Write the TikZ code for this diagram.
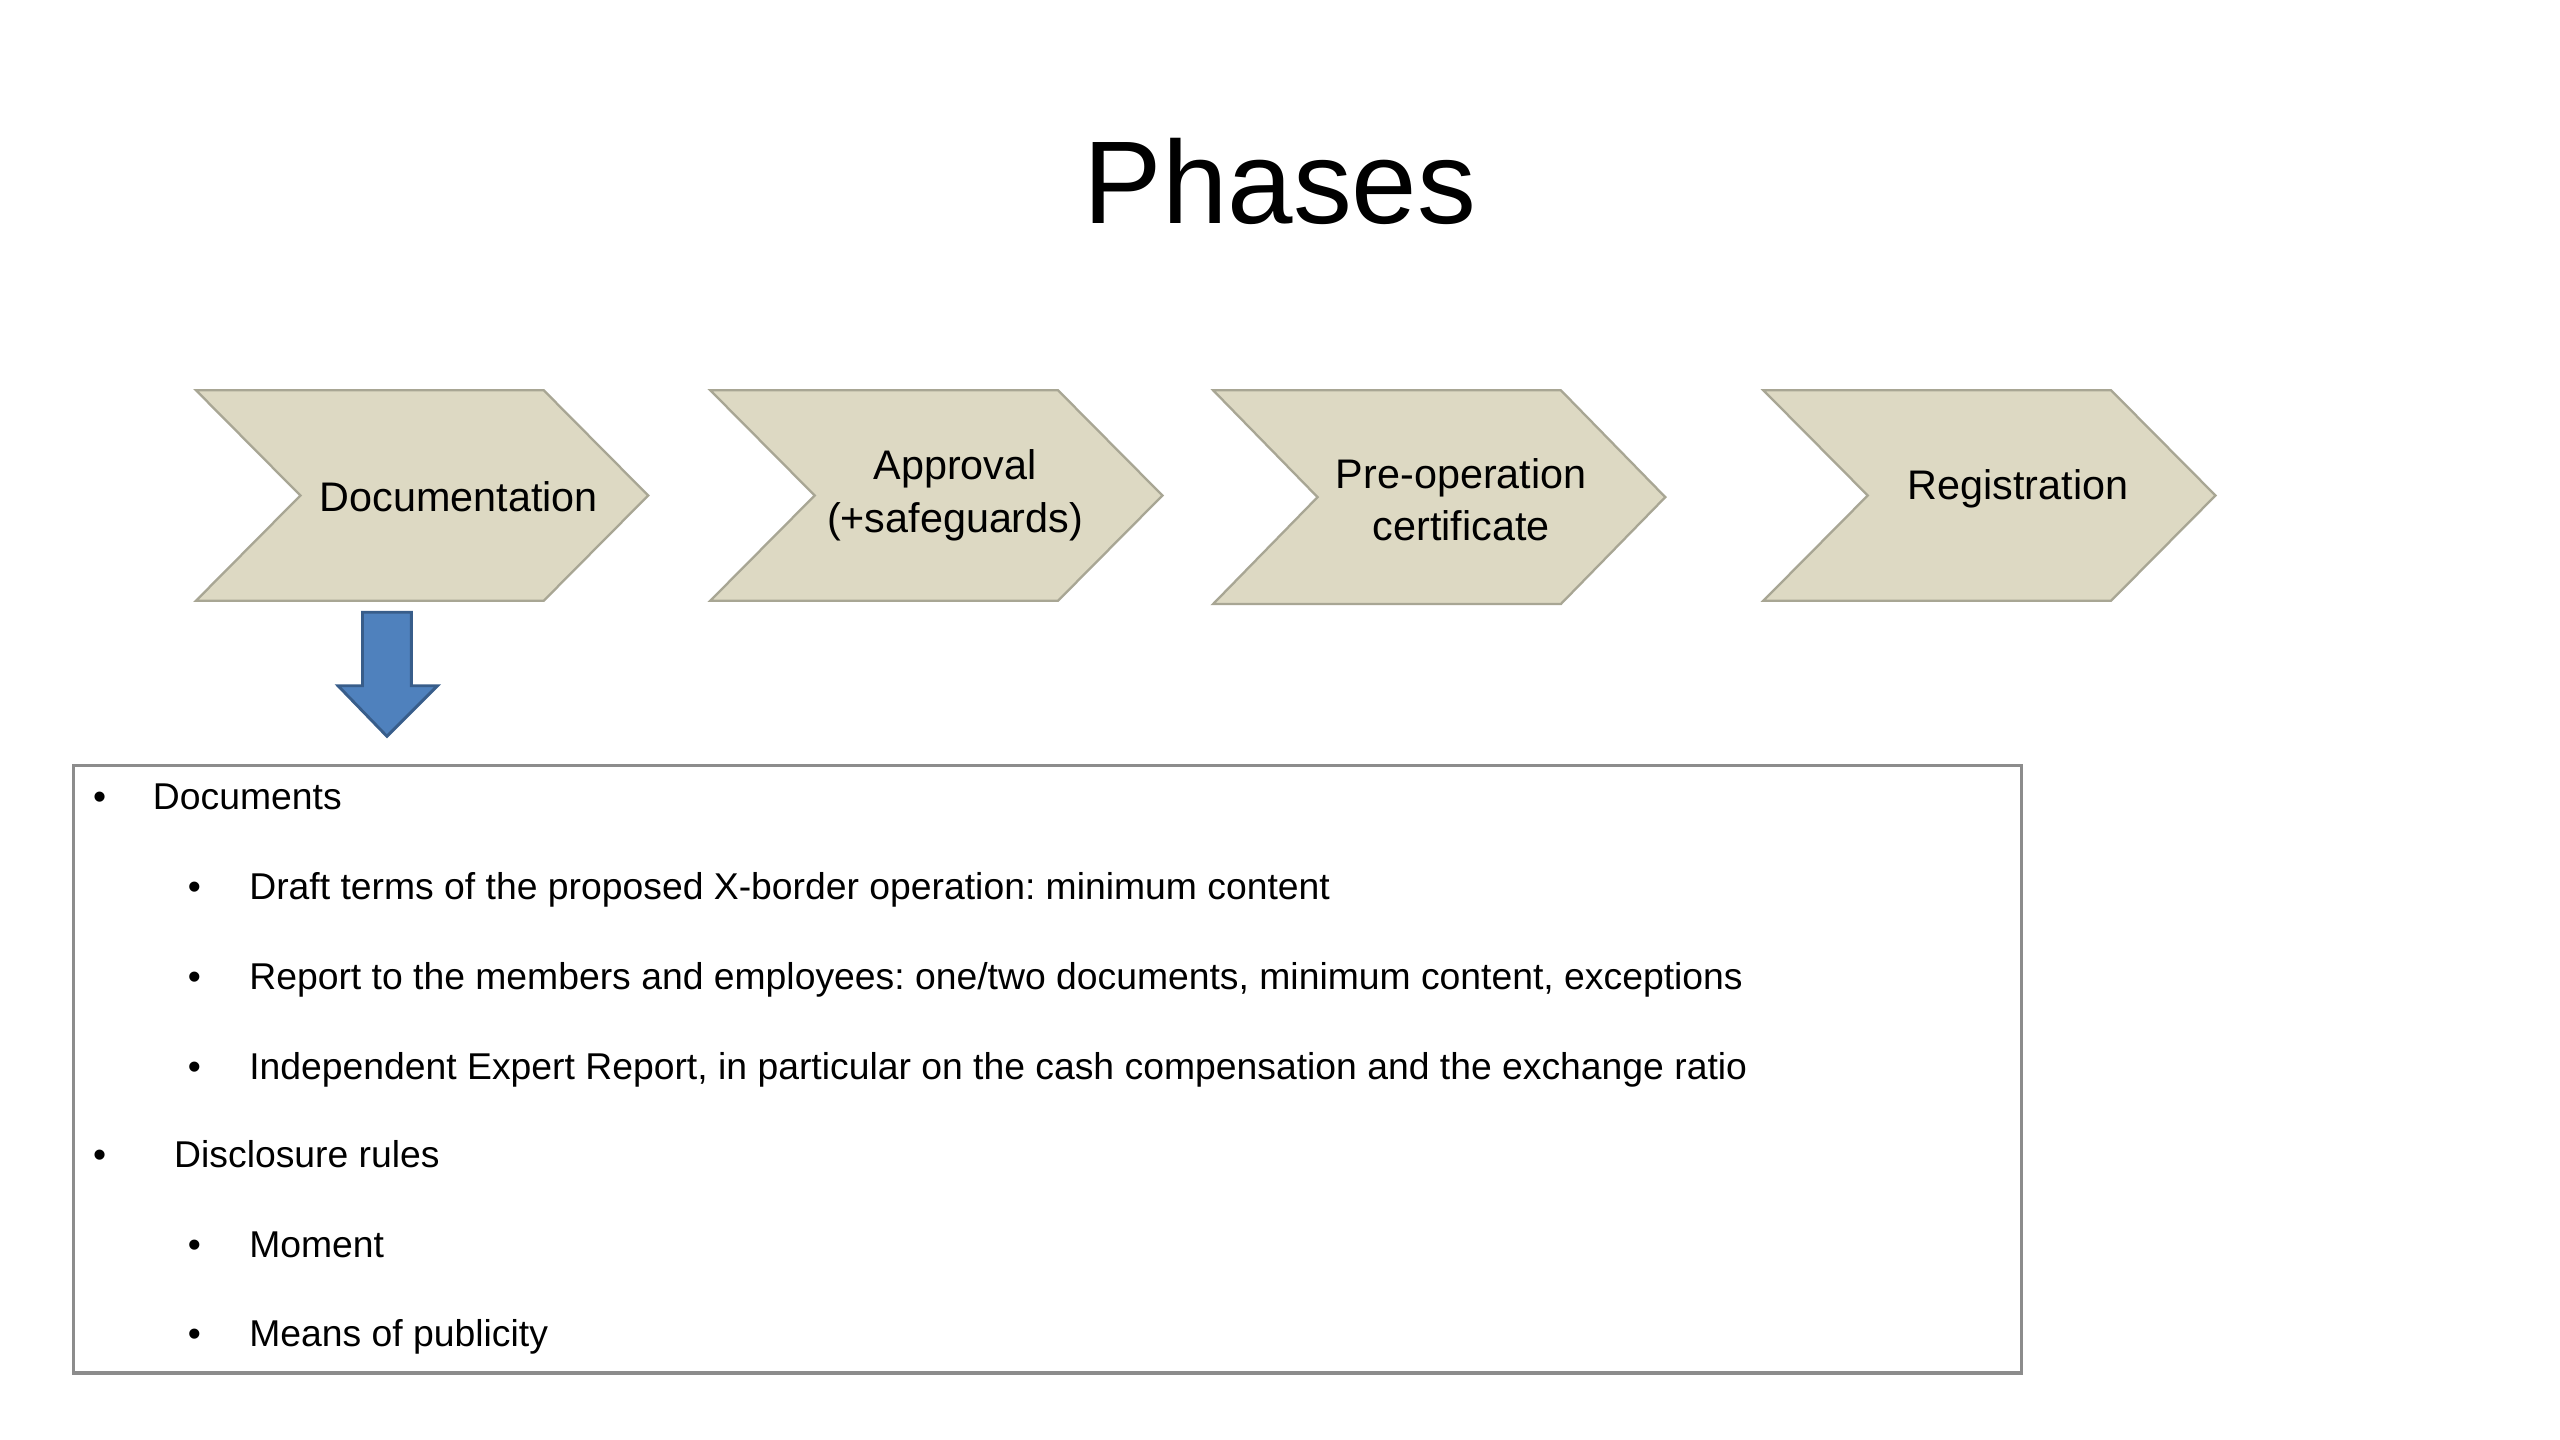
\documentclass[tikz,border=0pt]{standalone}
\usepackage{fontspec}
\setmainfont{Liberation Sans}
\frenchspacing
\definecolor{chevfill}{HTML}{DDD9C3}
\definecolor{chevline}{HTML}{A8A694}
\definecolor{arrfill}{HTML}{4F81BD}
\definecolor{arrline}{HTML}{385D8A}
\definecolor{boxline}{HTML}{8C8C8C}
\tikzset{
  chev/.style={fill=chevfill, draw=chevline, line width=0.4pt, line join=miter},
  chevtext/.style={font=\fontsize{7.2}{8.6}\selectfont, anchor=base, inner sep=0pt},
  lvla/.style={font=\fontsize{6.5}{7.8}\selectfont, anchor=base west, inner sep=0pt},
  bul/.style={font=\fontsize{6.5}{7.8}\selectfont, anchor=base, inner sep=0pt},
}
\begin{document}
\begin{tikzpicture}[x=0.01cm, y=-0.01cm]
\useasboundingbox (0,0) rectangle (1568,882);
\fill[white] (0,0) rectangle (1568,882);
% title
\node[font=\fontsize{20.5}{24}\selectfont, anchor=base, inner sep=0pt] (title) at (784,137) {Phases};
% chevrons
\foreach \n/\x/\b in {c1/120/368, c2/435/368, c3/743/370, c4/1080/368}{
  \draw[chev] (\x,239) -- ++(213,0) -- ++(64,{(\b-239)/2}) -- (\x+213,\b) -- (\x,\b) -- ++(64,{-(\b-239)/2}) -- cycle;
  \coordinate (\n) at (\x+138,{(239+\b)/2});
}
\node[chevtext] (t1) at (281,313) {Documentation};
\node[chevtext] (t2a) at (585,294) {Approval};
\node[chevtext] (t2b) at (585,326) {(+safeguards)};
\node[chevtext] (t3a) at (895,299) {Pre-operation};
\node[chevtext] (t3b) at (895,331) {certificate};
\node[chevtext] (t4) at (1236,306) {Registration};
% blue arrow
\draw[fill=arrfill, draw=arrline, line width=0.5pt, line join=miter]
  (222,375) -- (252,375) -- (252,420) -- (268,420) -- (237,451) -- (207,420) -- (222,420) -- cycle;
\coordinate (arrtip) at (237,451);
% box
\draw[draw=boxline, line width=0.6pt] (45,469) rectangle (1238,841);
\coordinate (box) at (641.5,655);
% bullets
\node[bul] (b1) at (61,496) {•};
\node[lvla] (l1) at (93,496) {Documents};
\node[bul] (b2) at (119,551) {•};
\node[lvla] (l2) at (152,551) {Draft terms of the proposed X-border operation: minimum content};
\node[bul] (b3) at (119,606) {•};
\node[lvla] (l3) at (152,606) {Report to the members and employees: one/two documents, minimum content, exceptions};
\node[bul] (b4) at (119,661) {•};
\node[lvla] (l4) at (152,661) {Independent Expert Report, in particular on the cash compensation and the exchange ratio};
\node[bul] (b5) at (61,715) {•};
\node[lvla] (l5) at (106,715) {Disclosure rules};
\node[bul] (b6) at (119,770) {•};
\node[lvla] (l6) at (152,770) {Moment};
\node[bul] (b7) at (119,825) {•};
\node[lvla] (l7) at (152,825) {Means of publicity};
\end{tikzpicture}
\end{document}
